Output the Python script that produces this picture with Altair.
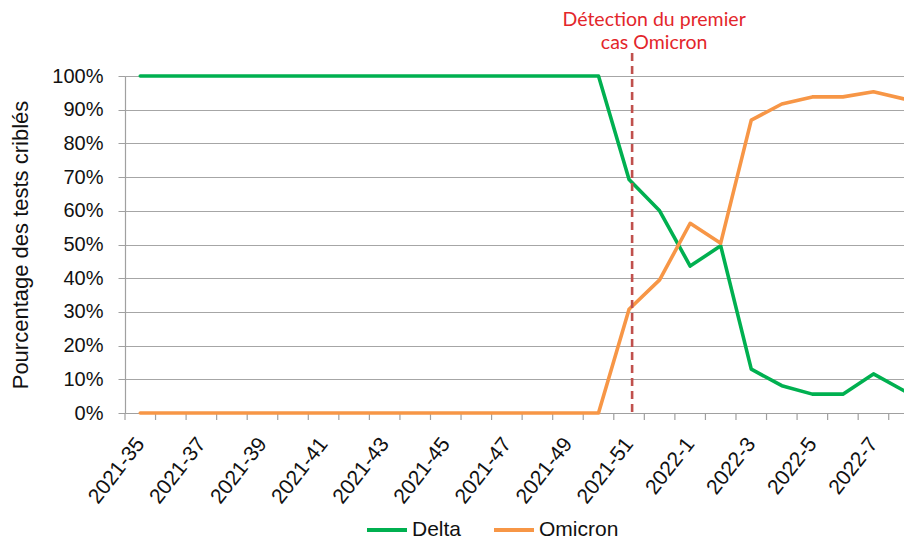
import altair as alt
import pandas as pd

weeks = ["2021-35", "2021-36", "2021-37", "2021-38", "2021-39", "2021-40", "2021-41",
         "2021-42", "2021-43", "2021-44", "2021-45", "2021-46", "2021-47", "2021-48",
         "2021-49", "2021-50", "2021-51", "2021-52", "2022-1", "2022-2", "2022-3",
         "2022-4", "2022-5", "2022-6", "2022-7", "2022-8"]
delta = [100, 100, 100, 100, 100, 100, 100, 100, 100, 100, 100, 100, 100, 100, 100, 100,
         69.3, 60.0, 43.6, 49.6, 13.0, 8.1, 5.6, 5.6, 11.6, 6.6]
omicron = [0, 0, 0, 0, 0, 0, 0, 0, 0, 0, 0, 0, 0, 0, 0, 0,
           30.8, 39.5, 56.3, 50.4, 86.9, 91.7, 93.8, 93.8, 95.3, 93.2]
series = ["Delta", "Omicron"]
colors = ["#00b050", "#f79646"]
marker_week = "2021-51"
annotation = ["Détection du premier", "cas Omicron"]

rows = []
for s, vals in zip(series, [delta, omicron]):
    for i, (w, v) in enumerate(zip(weeks, vals)):
        rows.append({"idx": i, "week": w, "series": s, "value": v, "order": series.index(s)})
df = pd.DataFrame(rows)

W, H = 779, 337
x_domain = [-0.5, 25.0]
label_js = "[" + ",".join("'%s'" % w for w in weeks) + "]"

xscale = alt.Scale(domain=x_domain, nice=False, zero=False)
yscale = alt.Scale(domain=[0, 100], nice=False)

lines = alt.Chart(df).mark_line(strokeWidth=3.6, strokeJoin="round", strokeCap="round").encode(
    x=alt.X("idx:Q", scale=xscale,
            axis=alt.Axis(values=list(range(0, len(weeks), 2)),
                          labelExpr=label_js + "[datum.value]",
                          labelAngle=-52, labelAlign="right", labelBaseline="middle",
                          labelPadding=27, ticks=False, grid=False, title=None,
                          labelFont="Liberation Sans", labelFontSize=21, labelColor="#111111",
                          domainColor="#a0a0a0", domainWidth=1.2, labelOverlap=False,
                          labelFlush=False)),
    y=alt.Y("value:Q", scale=yscale,
            axis=alt.Axis(values=list(range(0, 101, 10)),
                          labelExpr="datum.value + '%'",
                          title="Pourcentage des tests criblés",
                          titleFont="Liberation Sans", titleFontSize=22, titleFontWeight="normal",
                          titleColor="#111111", titleAngle=-90, titleAlign="center",
                          titleBaseline="middle", titleX=-105, titleY=H / 2,
                          labelFont="Liberation Sans", labelFontSize=20, labelColor="#111111",
                          labelPadding=15, tickSize=7, tickColor="#a0a0a0",
                          domainColor="#a0a0a0", domainWidth=1.2,
                          grid=True, gridColor="#a6a6a6", gridWidth=1.2)),
    color=alt.Color("series:N", scale=alt.Scale(domain=series, range=colors),
                    legend=alt.Legend(title=None, orient="none", direction="horizontal",
                                      legendX=240, legendY=432,
                                      symbolType="stroke", symbolSize=1600,
                                      symbolStrokeWidth=4, labelFont="Liberation Sans",
                                      labelFontSize=21, labelColor="#111111",
                                      labelOffset=3, columnPadding=24, padding=0)),
    order="order:Q",
)

bounds = pd.DataFrame({"b": [i - 0.5 for i in range(len(weeks))]})
xticks = alt.Chart(bounds).mark_rule(color="#a0a0a0", strokeWidth=1.2).encode(
    x=alt.X("b:Q", scale=xscale),
    y=alt.value(H),
    y2=alt.value(H + 7),
)

mk = pd.DataFrame({"pos": [weeks.index(marker_week) + 0.1]})
vline = alt.Chart(mk).mark_rule(color="#c0504d", strokeWidth=2.6, strokeDash=[8, 5]).encode(
    x=alt.X("pos:Q", scale=xscale),
    y=alt.value(-23),
    y2=alt.value(H),
)

txt1 = alt.Chart(mk).mark_text(text=annotation[0], font="Lato", fontSize=19.5, color="#e3262b",
                               align="center", baseline="alphabetic", dx=22, dy=-50).encode(
    x=alt.X("pos:Q", scale=xscale), y=alt.value(0))
txt2 = alt.Chart(mk).mark_text(text=annotation[1], font="Lato", fontSize=19.5, color="#e3262b",
                               align="center", baseline="alphabetic", dx=22, dy=-27).encode(
    x=alt.X("pos:Q", scale=xscale), y=alt.value(0))

chart = alt.layer(xticks, lines, vline, txt1, txt2).properties(
    width=W, height=H,
    autosize=alt.AutoSizeParams(type="none"),
    padding={"left": 117, "top": 68, "right": 0, "bottom": 128},
).configure_view(stroke=None).configure(background="white")

chart.save("out.html", embed_options={"renderer": "svg", "actions": False})
